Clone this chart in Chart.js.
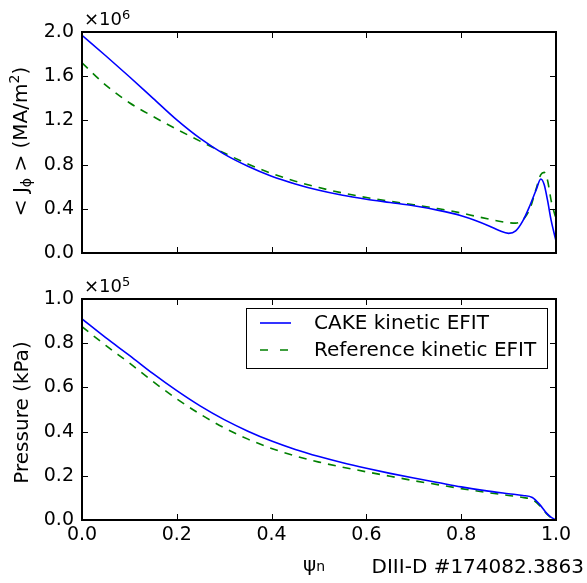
<!DOCTYPE html>
<html><head><meta charset="utf-8">
<script src="https://cdn.jsdelivr.net/npm/chart.js@4/dist/chart.umd.min.js"></script>
<style>
html,body{margin:0;padding:0;background:#fff;width:587px;height:583px;overflow:hidden}
#c1{position:absolute;left:0;top:0}
#c2{position:absolute;left:0;top:275px}
</style></head><body>
<canvas id="c1" width="587" height="275"></canvas>
<canvas id="c2" width="587" height="308"></canvas>
<script>
// ---- data ----
const psiJ  = [0, 0.05, 0.1, 0.15, 0.2, 0.25, 0.3, 0.35, 0.4, 0.45, 0.5, 0.55, 0.6, 0.65, 0.7, 0.75, 0.8, 0.83, 0.86, 0.88, 0.9, 0.915, 0.93, 0.945, 0.958, 0.968, 0.975, 0.982, 0.99, 1.0];
const jCake = [1.97, 1.785, 1.595, 1.40, 1.205, 1.035, 0.895, 0.785, 0.695, 0.625, 0.567, 0.522, 0.487, 0.457, 0.427, 0.388, 0.338, 0.295, 0.243, 0.203, 0.178, 0.20, 0.29, 0.43, 0.57, 0.67, 0.62, 0.48, 0.29, 0.11];
const jRef  = [1.72, 1.52, 1.36, 1.235, 1.12, 1.01, 0.905, 0.805, 0.72, 0.65, 0.592, 0.543, 0.502, 0.468, 0.437, 0.402, 0.362, 0.333, 0.305, 0.288, 0.274, 0.270, 0.30, 0.40, 0.58, 0.71, 0.73, 0.66, 0.47, 0.31];
const psiP  = [0, 0.05, 0.1, 0.15, 0.2, 0.25, 0.3, 0.35, 0.4, 0.45, 0.5, 0.55, 0.6, 0.65, 0.7, 0.75, 0.8, 0.85, 0.9, 0.93, 0.95, 0.965, 0.98, 0.99, 1.0];
const pCake = [0.91, 0.825, 0.745, 0.662, 0.585, 0.515, 0.454, 0.402, 0.357, 0.319, 0.287, 0.259, 0.234, 0.211, 0.19, 0.17, 0.15, 0.133, 0.119, 0.111, 0.102, 0.072, 0.031, 0.012, 0.0];
const pRef  = [0.875, 0.79, 0.71, 0.626, 0.548, 0.478, 0.417, 0.366, 0.324, 0.29, 0.262, 0.239, 0.218, 0.198, 0.178, 0.16, 0.142, 0.126, 0.111, 0.102, 0.092, 0.066, 0.029, 0.01, 0.0];
const seriesNames = ['CAKE kinetic EFIT', 'Reference kinetic EFIT'];
const xTicks = [0, 0.2, 0.4, 0.6, 0.8, 1.0];
const jTicks = [0, 0.4, 0.8, 1.2, 1.6, 2.0];
const pTicks = [0, 0.2, 0.4, 0.6, 0.8, 1.0];

Chart.defaults.font.family = 'DejaVu Sans';
Chart.defaults.color = '#000';

function pts(xs, ys){ return xs.map((x,i)=>({x:x, y:ys[i]})); }

function mixed(ctx, parts, x, y){ // parts: [text, size, dy]
  let cx = x;
  parts.forEach(p=>{ ctx.font = p[1]+'px "DejaVu Sans"'; ctx.fillText(p[0], cx, y + p[2]); cx += ctx.measureText(p[0]).width; });
}
function mixedWidth(ctx, parts){
  let w = 0;
  parts.forEach(p=>{ ctx.font = p[1]+'px "DejaVu Sans"'; w += ctx.measureText(p[0]).width; });
  return w;
}

const framePlugin = {
  id: 'frame',
  afterDatasetsDraw(chart, args, opts){
    const ctx = chart.ctx, a = chart.chartArea, xs = chart.scales.x, ys = chart.scales.y;
    ctx.save();
    ctx.strokeStyle = '#000';
    ctx.lineWidth = 1;
    const L = 6;
    ctx.beginPath();
    xTicks.forEach(t=>{ const p = Math.round(xs.getPixelForValue(t))+0.5;
      ctx.moveTo(p, a.bottom); ctx.lineTo(p, a.bottom-L);
      ctx.moveTo(p, a.top); ctx.lineTo(p, a.top+L); });
    opts.yTicks.forEach(t=>{ const p = Math.round(ys.getPixelForValue(t))+0.5;
      ctx.moveTo(a.left, p); ctx.lineTo(a.left+L, p);
      ctx.moveTo(a.right, p); ctx.lineTo(a.right-L, p); });
    ctx.stroke();
    ctx.lineWidth = 2;
    ctx.strokeRect(a.left, a.top, a.right-a.left, a.bottom-a.top);
    ctx.fillStyle = '#000';
    ctx.textAlign = 'left';
    ctx.textBaseline = 'alphabetic';
    // multiplier
    mixed(ctx, [['×10', 18, 0], [opts.exp, 13, -6]], a.left+2, a.top-7);
    // y label (rotated)
    const cy = (a.top + a.bottom)/2 + opts.labelShift;
    ctx.translate(opts.labelX, cy);
    ctx.rotate(-Math.PI/2);
    const w = mixedWidth(ctx, opts.label);
    mixed(ctx, opts.label, -w/2, 0);
    ctx.restore();
    if (opts.extra) opts.extra(chart);
  }
};

const common = (xHeight, showX, padTop) => ({
  responsive: false, animation: false, devicePixelRatio: 1,
  layout: { padding: { top: padTop, right: 31, left: 0, bottom: 0 } },
  plugins: { legend: { display: false }, tooltip: { enabled: false } },
  scales: {
    x: { type: 'linear', min: 0, max: 1,
      grid: { display: false, drawTicks: false }, border: { display: false },
      ticks: { display: showX, stepSize: 0.2, padding: 4, font: { size: 19 }, color: '#000', maxRotation: 0,
        callback: v => Number(v).toFixed(1) },
      afterFit: s => { s.height = xHeight; } },
    y: { type: 'linear',
      grid: { display: false, drawTicks: false }, border: { display: false },
      ticks: { padding: 8, font: { size: 19 }, color: '#000', callback: v => Number(v).toFixed(1) },
      afterFit: s => { s.width = 82; } }
  }
});

const lineDs = (label, data, color, dash) => ({
  label, data, borderColor: color, backgroundColor: color, borderWidth: 1.6,
  borderDash: dash, pointRadius: 0, cubicInterpolationMode: 'monotone', fill: false
});

// ---- top chart ----
const o1 = common(22, false, 32);
o1.scales.y.min = 0; o1.scales.y.max = 2.0; o1.scales.y.ticks.stepSize = 0.4;
o1.plugins.frame = { yTicks: jTicks, exp: '6', labelX: 27, labelShift: -1,
  label: [['< J', 20, 0], ['ϕ', 14, 4], [' > (MA/m', 20, 0], ['2', 14, -8], [')', 20, 0]] };
new Chart(document.getElementById('c1'), {
  type: 'line',
  data: { datasets: [
    lineDs(seriesNames[0], pts(psiJ, jCake), '#0000ff', []),
    lineDs(seriesNames[1], pts(psiJ, jRef), '#008000', [8, 7])
  ] },
  options: o1,
  plugins: [framePlugin]
});

// ---- bottom chart ----
const o2 = common(63, true, 24);
o2.scales.y.min = 0; o2.scales.y.max = 1.0; o2.scales.y.ticks.stepSize = 0.2;
o2.plugins.frame = { yTicks: pTicks, exp: '5', labelX: 28, labelShift: 3,
  label: [['Pressure (kPa)', 20, 0]],
  extra: chart => {
    const ctx = chart.ctx, a = chart.chartArea;
    ctx.save();
    // legend
    const bx = a.right - 310, by = a.top + 9, bw = 301, bh = 60;
    ctx.fillStyle = '#fff';
    ctx.fillRect(bx, by, bw, bh);
    ctx.strokeStyle = '#000'; ctx.lineWidth = 1;
    ctx.strokeRect(bx+0.5, by+0.5, bw, bh);
    const ds = chart.data.datasets;
    const rows = [by + 15, by + 42];
    ds.forEach((d, i) => {
      ctx.strokeStyle = d.borderColor; ctx.lineWidth = 1.6;
      ctx.setLineDash(d.borderDash.length ? [8, 12] : []);
      ctx.beginPath(); ctx.moveTo(bx+14, rows[i]); ctx.lineTo(bx+45, rows[i]); ctx.stroke();
      ctx.setLineDash([]);
      ctx.fillStyle = '#000'; ctx.font = '20px "DejaVu Sans"';
      ctx.textAlign = 'left'; ctx.textBaseline = 'middle';
      ctx.fillText(d.label, bx+68, rows[i] + 1);
    });
    // x label
    ctx.textBaseline = 'alphabetic';
    mixed(ctx, [['ψ', 20, 0], ['n', 14, 0]], 303, 296);
    ctx.font = '20px "DejaVu Sans"';
    ctx.textAlign = 'right';
    ctx.fillText('DIII-D #174082.3863', 584, 298);
    ctx.restore();
  } };
new Chart(document.getElementById('c2'), {
  type: 'line',
  data: { datasets: [
    lineDs(seriesNames[0], pts(psiP, pCake), '#0000ff', []),
    lineDs(seriesNames[1], pts(psiP, pRef), '#008000', [8, 7])
  ] },
  options: o2,
  plugins: [framePlugin]
});
</script>
</body></html>
